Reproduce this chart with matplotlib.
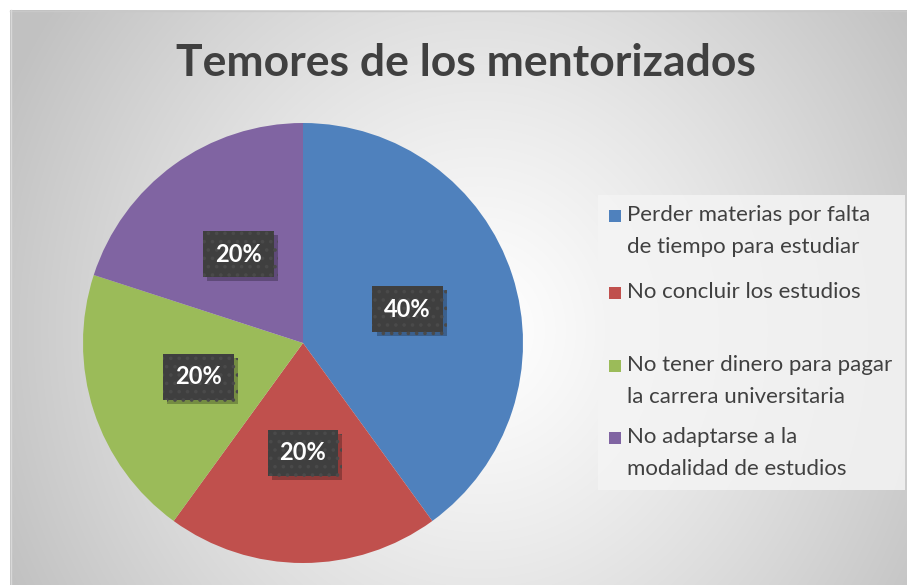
import numpy as np
import matplotlib.pyplot as plt
from matplotlib.patches import Rectangle
from matplotlib import patheffects

plt.rcParams['font.family'] = ['Lato', 'DejaVu Sans']
plt.rcParams['hatch.linewidth'] = 1.4

# chart data
categories = [
    "Perder materias por falta\nde tiempo para estudiar",
    "No concluir los estudios",
    "No tener dinero para pagar\nla carrera universitaria",
    "No adaptarse a la\nmodalidad de estudios",
]
values = [40, 20, 20, 20]
colors = ["#4f81bd", "#c0504d", "#9bbb59", "#8064a2"]
title = "Temores de los mentorizados"

W, H = 907, 585
fig = plt.figure(figsize=(W / 100, H / 100), dpi=100)
fig.patch.set_facecolor("white")
ax = fig.add_axes([0, 0, 1, 1])


def py(y):
    # pixel row (from top) -> data y
    return H - y


# radial gray background of the chart area
gx, gy = np.meshgrid(np.arange(10, W), np.arange(10, H))
d = np.sqrt(((gx - 480) / 520.0) ** 2 + ((gy - 330) / 560.0) ** 2)
shade = 1.0 - 0.24 * np.clip(d, 0, 1) ** 1.2
bg = np.dstack([shade, shade, shade])
ax.imshow(bg, extent=(10, W, py(H), py(10)), origin="upper", zorder=0,
          interpolation="bilinear")
ax.plot([10, W], [py(10.5), py(10.5)], color="#c8c8c8", lw=1, zorder=1)
ax.plot([10.5, 10.5], [py(10), 0], color="#d8d8d8", lw=1, zorder=1)

# pie
cx, cy, r = 303, 343, 220
wedges, texts, autotexts = ax.pie(
    values, colors=colors, startangle=90, counterclock=False,
    center=(cx, py(cy)), radius=r, autopct="%1.0f%%", pctdistance=0.5,
    wedgeprops=dict(linewidth=0, zorder=3),
    textprops=dict(color="white", fontsize=17, fontweight="bold", zorder=6),
)
for t in autotexts:
    t.set_bbox(dict(boxstyle="square,pad=0.5", fc="#3f3f3f", ec="#4a4a4a",
                    lw=0, hatch=".."))
    t.get_bbox_patch().set_path_effects([
        patheffects.SimplePatchShadow(offset=(3, -3), shadow_rgbFace="black",
                                      alpha=0.25),
        patheffects.Normal(),
    ])

# title
ax.text(466, py(63), title, ha="center", va="center", fontsize=32,
        fontweight="bold", color="#404040", zorder=4)

# legend box
ax.add_patch(Rectangle((598, py(490)), 307, 295, fc="#f4f4f4", ec="none",
                       alpha=0.85, zorder=2))
legend_y = [216, 293, 366, 438]
for lab, col, yy in zip(categories, colors, legend_y):
    ax.add_patch(Rectangle((609, py(yy) - 6), 12, 12, fc=col, ec="none",
                           zorder=4))
    ax.text(627, py(yy) + 11, lab, ha="left", va="top", fontsize=16,
            color="#404040", linespacing=1.75, zorder=4)

ax.set_xlim(0, W)
ax.set_ylim(0, H)
ax.set_aspect("auto")
ax.axis("off")

fig.savefig("out.png", dpi=100)
